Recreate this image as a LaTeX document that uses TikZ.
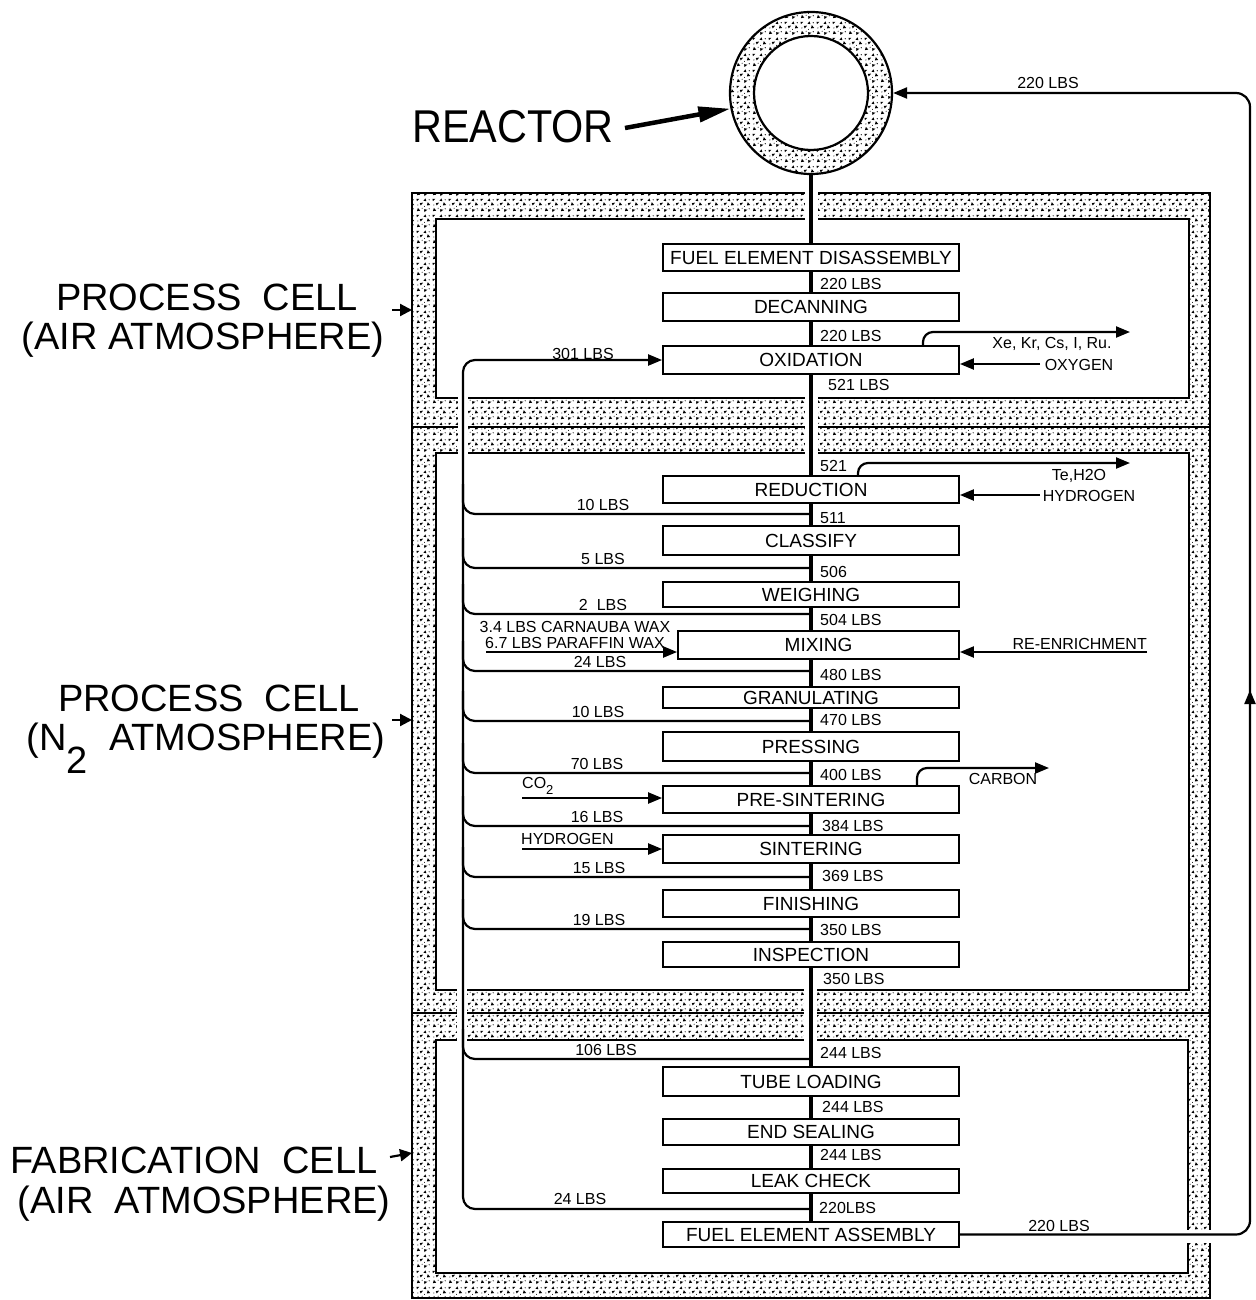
\documentclass[tikz,border=0pt]{standalone}
\usepackage{fontspec}
\setmainfont{Liberation Sans}
\newfontfamily\bigf{Liberation Sans}
\newfontfamily\reacf[FakeStretch=0.9]{Liberation Sans}
\usetikzlibrary{arrows.meta,patterns}
\pgfdeclarepatternformonly{stip}{\pgfpointorigin}{\pgfpoint{16pt}{16pt}}{\pgfpoint{16pt}{16pt}}{%
 \pgfpathmoveto{\pgfpoint{1pt}{2pt}}\pgfpathlineto{\pgfpoint{4.5pt}{2.5pt}}\pgfpathlineto{\pgfpoint{2pt}{5.5pt}}\pgfpathclose
 \pgfpathmoveto{\pgfpoint{9pt}{1pt}}\pgfpathlineto{\pgfpoint{12pt}{3.5pt}}\pgfpathlineto{\pgfpoint{8.5pt}{4pt}}\pgfpathclose
 \pgfpathmoveto{\pgfpoint{5pt}{8pt}}\pgfpathlineto{\pgfpoint{7.5pt}{11pt}}\pgfpathlineto{\pgfpoint{4pt}{10.5pt}}\pgfpathclose
 \pgfpathmoveto{\pgfpoint{11.5pt}{8pt}}\pgfpathlineto{\pgfpoint{15pt}{8.5pt}}\pgfpathlineto{\pgfpoint{12.5pt}{11.5pt}}\pgfpathclose
 \pgfpathmoveto{\pgfpoint{1pt}{12.5pt}}\pgfpathlineto{\pgfpoint{3.5pt}{15pt}}\pgfpathlineto{\pgfpoint{0.5pt}{15pt}}\pgfpathclose
 \pgfpathmoveto{\pgfpoint{8pt}{13pt}}\pgfpathlineto{\pgfpoint{11pt}{12.5pt}}\pgfpathlineto{\pgfpoint{10pt}{15.5pt}}\pgfpathclose
 \pgfpathcircle{\pgfpoint{6.5pt}{5pt}}{0.6pt}
 \pgfpathcircle{\pgfpoint{14pt}{4.5pt}}{0.6pt}
 \pgfpathcircle{\pgfpoint{2pt}{8.5pt}}{0.6pt}
 \pgfpathcircle{\pgfpoint{14pt}{14pt}}{0.6pt}
 \pgfpathcircle{\pgfpoint{9pt}{7pt}}{0.5pt}
 \pgfusepath{fill}}
\begin{document}
\begin{tikzpicture}[x=1pt,y=-1pt,
  box/.style={draw, fill=white, line width=1.8pt, minimum width=296pt, inner sep=0pt,
              font=\fontsize{19}{19}\selectfont},
  lbs/.style={inner sep=0pt, anchor=west, font=\fontsize{16}{16}\selectfont},
  lbl/.style={inner sep=0pt, font=\fontsize{16}{16}\selectfont},
  bigl/.style={inner sep=0pt, font=\bigf\fontsize{38}{40}\selectfont},
  flow/.style={line width=2.2pt},
  mainline/.style={line width=4pt},
  wall/.style={line width=2pt},
  arr/.style={-{Triangle[length=14pt,width=11pt]}},
  gap/.style={fill=white, draw=none}]
\useasboundingbox (0,0) rectangle (1255,1300);

% ---------- cells (shielded walls) ----------
\path[pattern=stip, even odd rule] (412,193) rectangle (1210,1298)
   (436,219) rectangle (1189,398) (436,453) rectangle (1189,990) (436,1040) rectangle (1188,1273);
\draw[wall] (412,193) rectangle (1210,1298);
\draw[wall] (436,219) rectangle (1189,398);
\draw[wall] (436,453) rectangle (1189,990);
\draw[wall] (436,1040) rectangle (1188,1273);
\draw[wall] (412,427) -- (1210,427);
\draw[wall] (412,1013) -- (1210,1013);
% pass-through gaps
\fill[gap] (805,190) rectangle (818,221);
\fill[gap] (805,396) rectangle (818,455);
\fill[gap] (458,396) rectangle (468,455);
\fill[gap] (804,988) rectangle (817,1042);
\fill[gap] (457,988) rectangle (467,1042);
\fill[gap] (1186,1230) rectangle (1212,1243);

% ---------- reactor ----------
\path[pattern=stip, even odd rule] (811,93) circle[radius=81pt] (811,93) circle[radius=57pt];
\node[circle, draw, line width=2.2pt, minimum size=162pt, inner sep=0pt] (reactor) at (811,93) {};
\node[circle, draw, line width=2.2pt, minimum size=114pt, inner sep=0pt] (core) at (811,93) {};
\node[inner sep=0pt, font=\reacf\fontsize{46}{46}\selectfont] (rlab) at (513,127) {REACTOR};
\coordinate (rstart) at (625,128);
\draw[line width=4.5pt, -{Triangle[length=32pt,width=15pt]}] (rstart) -- (reactor.191);

% ---------- process boxes ----------
\node[box, minimum height=27pt] (fed) at (811,257.5) {FUEL ELEMENT DISASSEMBLY};
\node[box, minimum height=28pt] (dec) at (811,307) {DECANNING};
\node[box, minimum height=28pt] (oxi) at (811,360) {OXIDATION};
\node[box, minimum height=27pt] (red) at (811,489.5) {REDUCTION};
\node[box, minimum height=29pt] (cla) at (811,540.5) {CLASSIFY};
\node[box, minimum height=25pt] (wei) at (811,594.5) {WEIGHING};
\node[box, minimum height=28pt, minimum width=281pt] (mix) at (818.5,645) {MIXING};
\node[box, minimum height=21pt] (gra) at (811,697.5) {GRANULATING};
\node[box, minimum height=29pt] (pre) at (811,746.5) {PRESSING};
\node[box, minimum height=27pt] (psi) at (811,799.5) {PRE-SINTERING};
\node[box, minimum height=28pt] (sin) at (811,849) {SINTERING};
\node[box, minimum height=27pt] (fin) at (811,903.5) {FINISHING};
\node[box, minimum height=25pt] (ins) at (811,954.5) {INSPECTION};
\node[box, minimum height=29pt] (tub) at (811,1081.5) {TUBE LOADING};
\node[box, minimum height=26pt] (end) at (811,1132) {END SEALING};
\node[box, minimum height=24pt] (lea) at (811,1181) {LEAK CHECK};
\node[box, minimum height=25pt] (fea) at (811,1234.5) {FUEL ELEMENT ASSEMBLY};

% ---------- main flow line ----------
\draw[mainline] (reactor.south) -- (fed.north);
\draw[mainline] (fed.south) -- (dec.north);
\draw[mainline] (dec.south) -- (oxi.north);
\draw[mainline] (oxi.south) -- (red.north);
\draw[mainline] (red.south) -- (cla.north);
\draw[mainline] (cla.south) -- (wei.north);
\draw[mainline] (wei.south) -- (wei.south |- mix.north);
\draw[mainline] (wei.south |- mix.south) -- (gra.north);
\draw[mainline] (gra.south) -- (pre.north);
\draw[mainline] (pre.south) -- (psi.north);
\draw[mainline] (psi.south) -- (sin.north);
\draw[mainline] (sin.south) -- (fin.north);
\draw[mainline] (fin.south) -- (ins.north);
\draw[mainline] (ins.south) -- (tub.north);
\draw[mainline] (tub.south) -- (end.north);
\draw[mainline] (end.south) -- (lea.north);
\draw[mainline] (lea.south) -- (fea.north);

% ---------- quantities on main line ----------
\foreach \x/\y/\t [count=\i] in {820/283.5/220 LBS, 820/336/220 LBS, 828/385/521 LBS,
   820/466/521, 820/518/511, 820/572/506, 820/620/504 LBS, 820/675/480 LBS,
   820/720/470 LBS, 820/775/400 LBS, 822/826/384 LBS, 822/876/369 LBS,
   820/930/350 LBS, 823/979/350 LBS, 820/1053/244 LBS, 822/1107/244 LBS,
   820/1155/244 LBS, 819/1208/220LBS}
  \node[lbs] (q\i) at (\x,\y) {\t};

% ---------- recycle stream ----------
\foreach \y/\t/\lx [count=\i] in {514/10 LBS/603, 568/5 LBS/603, 614/2~~LBS/603,
   671/24 LBS/600, 721/10 LBS/598, 773/70 LBS/597, 826/16 LBS/597,
   877/15 LBS/599, 929/19 LBS/599, 1059/106 LBS/606}{
  \coordinate (m\i) at (811,\y);
  \coordinate (v\i) at (463,\y-30);
  \draw[flow, rounded corners=12] (m\i) -| (v\i);
  \node[lbl] (b\i) at (\lx,\y-9) {\t};
}
\coordinate (mlast) at (811,1209);
\draw[flow, rounded corners=12, arr] (mlast) -| (463,360) -- (oxi.west);
\node[lbl] (blast) at (580,1199) {24 LBS};
\node[lbl] (b301) at (583,354) {301 LBS};

% ---------- inputs ----------
\coordinate (oxy) at (1040,364);
\draw[flow, arr] (oxy) -- (oxy -| oxi.east);
\node[lbl] (toxy) at (1079,365) {OXYGEN};
\coordinate (hyd) at (1040,495);
\draw[flow, arr] (hyd) -- (hyd -| red.east);
\node[lbl] (thyd) at (1089,496) {HYDROGEN};
\coordinate (renr) at (1147,652);
\draw[flow, arr] (renr) -- (renr -| mix.east);
\node[lbl, anchor=south east] (trenr) at (1147,650) {RE-ENRICHMENT};
\coordinate (wax) at (486,652);
\draw[flow, arr] (wax) -- (wax -| mix.west);
\node[lbl] (twax1) at (575,627) {3.4 LBS CARNAUBA WAX};
\node[lbl] (twax2) at (575,643) {6.7 LBS PARAFFIN WAX};
\coordinate (co2) at (522,798);
\draw[flow, arr] (co2) -- (co2 -| psi.west);
\node[lbl, anchor=west] (tco2) at (522,786) {CO\raisebox{-0.35em}{\fontsize{13}{13}\selectfont 2}};
\coordinate (hyd2) at (522,849);
\draw[flow, arr] (hyd2) -- (hyd2 -| sin.west);
\node[lbl, anchor=west] (thyd2) at (521,839) {HYDROGEN};

% ---------- outputs ----------
\coordinate (xeout) at (1130,332);
\draw[flow, rounded corners=10, arr] (oxi.north -| 923,0) |- (xeout);
\node[lbl] (txe) at (1052,344) {Xe, Kr, Cs, I, Ru.};
\coordinate (teout) at (1130,463);
\draw[flow, rounded corners=10, arr] (red.north -| 858,0) |- (teout);
\node[lbl] (tte) at (1079,476) {Te,H2O};
\coordinate (cout) at (1049,768);
\draw[flow, rounded corners=10, arr] (psi.north -| 917,0) |- (cout);
\node[lbl] (tcarb) at (1003,779) {CARBON};

% ---------- return to reactor ----------
\draw[flow, rounded corners=14, arr] (fea.east) -| (1250,93) -- (reactor.east);
\coordinate (ra1) at (1250,712);
\coordinate (ra2) at (1250,690);
\draw[flow, arr] (ra1) -- (ra2);
\node[lbl] (tret1) at (1048,83) {220 LBS};
\node[lbl] (tret2) at (1059,1226) {220 LBS};

% ---------- cell labels ----------
\node[bigl] (c1a) at (207,297) {PROCESS\ \ CELL};
\node[bigl] (c1b) at (203,340) {(AIR ATMOSPHERE)};
\coordinate (c1s) at (392,310); \coordinate (c1t) at (412,310);
\draw[flow, -{Triangle[length=12pt,width=12pt]}] (c1s) -- (c1t);
\node[bigl] (c2a) at (209,698) {PROCESS\ \ CELL};
\node[bigl] (c2b) at (206,741) {(N\smash{\raisebox{-0.6em}{2}}\ \ ATMOSPHERE)};
\coordinate (c2s) at (392,720); \coordinate (c2t) at (412,720);
\draw[flow, -{Triangle[length=12pt,width=12pt]}] (c2s) -- (c2t);
\node[bigl] (c3a) at (194,1160) {FABRICATION\ \ CELL};
\node[bigl] (c3b) at (204,1204) {(AIR\ \ ATMOSPHERE)};
\coordinate (c3s) at (390,1157); \coordinate (c3t) at (412,1153);
\draw[flow, -{Triangle[length=12pt,width=12pt]}] (c3s) -- (c3t);
\end{tikzpicture}
\end{document}
